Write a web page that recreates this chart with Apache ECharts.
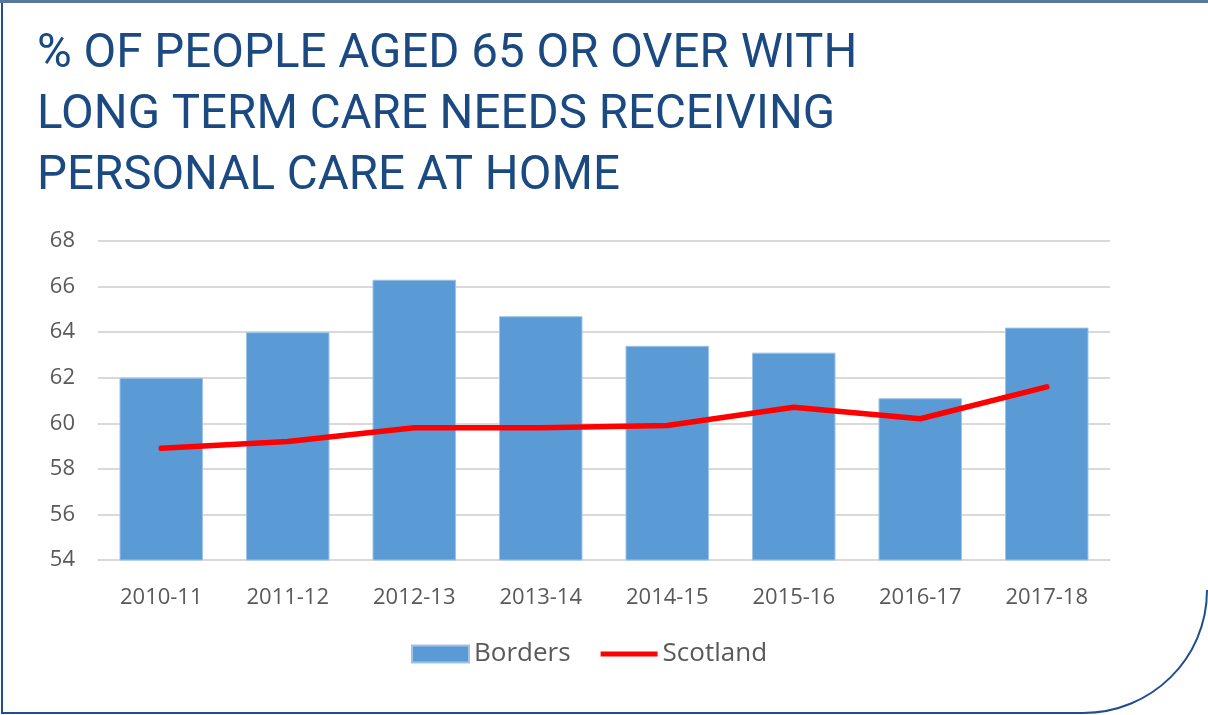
<!DOCTYPE html>
<html>
<head>
<meta charset="utf-8">
<script src="https://cdn.jsdelivr.net/npm/echarts@6/dist/echarts.min.js"></script>
<style>
  html, body { margin: 0; padding: 0; background: #fff; }
  #chart { width: 1208px; height: 715px; }
</style>
</head>
<body>
<div id="chart"></div>
<script>
// Financial years shown on the category axis
const years = ['2010-11', '2011-12', '2012-13', '2013-14', '2014-15', '2015-16', '2016-17', '2017-18'];
// % of people aged 65+ with long term care needs receiving personal care at home
const borders = [62.0, 64.0, 66.3, 64.7, 63.4, 63.1, 61.1, 64.2];
const scotland = [58.9, 59.2, 59.8, 59.8, 59.9, 60.7, 60.2, 61.6];
// Value axis range
const yMin = 54, yMax = 68, yStep = 2;

const chart = echarts.init(document.getElementById('chart'), null, { renderer: 'canvas' });

chart.setOption({
  animation: false,
  backgroundColor: '#ffffff',
  title: {
    text: '% OF PEOPLE AGED 65 OR OVER WITH\nLONG TERM CARE NEEDS RECEIVING\nPERSONAL CARE AT HOME',
    left: 32,
    top: 20,
    textStyle: {
      fontFamily: 'Roboto',
      fontWeight: 'normal',
      fontSize: 47.5,
      lineHeight: 61,
      color: '#1B4A82'
    }
  },
  legend: {
    left: 411,
    bottom: 48,
    padding: 0,
    itemGap: 30,
    itemWidth: 57,
    itemHeight: 17,
    textStyle: { fontFamily: 'Open Sans', fontSize: 26, color: '#595959' },
    data: [
      { name: 'Borders', icon: 'rect' },
      { name: 'Scotland', icon: 'path://M0,0 L57,0 L57,5 L0,5 Z', itemStyle: { color: '#FF0000' } }
    ]
  },
  grid: { left: 98, right: 98, top: 241, bottom: 155 },
  xAxis: {
    type: 'category',
    data: years,
    axisLine: { lineStyle: { color: '#D9D9D9', width: 2 } },
    axisTick: { show: false },
    axisLabel: { fontFamily: 'Open Sans', fontSize: 22, color: '#595959', margin: 27 }
  },
  yAxis: {
    type: 'value',
    min: yMin,
    max: yMax,
    interval: yStep,
    axisLine: { show: false },
    axisTick: { show: false },
    axisLabel: { fontFamily: 'Open Sans', fontSize: 22, color: '#595959', margin: 23 },
    splitLine: { lineStyle: { color: '#D9D9D9', width: 2 } }
  },
  series: [
    {
      name: 'Borders',
      type: 'bar',
      data: borders,
      barWidth: '66%',
      itemStyle: { color: '#5B9BD5', borderColor: '#9DC3E6', borderWidth: 1 },
      z: 2
    },
    {
      name: 'Scotland',
      type: 'line',
      data: scotland,
      symbol: 'none',
      lineStyle: { color: '#FF0000', width: 5.5, cap: 'round', join: 'round' },
      itemStyle: { color: '#FF0000' },
      z: 3
    }
  ],
  graphic: [
    {
      // outer frame: left and bottom edges
      type: 'polyline',
      shape: { points: [[2, 1], [2, 713], [1083, 713]] },
      style: { fill: null, stroke: '#1F4E8C', lineWidth: 2 },
      silent: true
    },
    {
      // rounded lower-right corner of the frame
      type: 'bezierCurve',
      shape: { x1: 1207, y1: 590, cpx1: 1207, cpy1: 659, cpx2: 1151, cpy2: 713, x2: 1083, y2: 713 },
      style: { fill: null, stroke: '#1F4E8C', lineWidth: 2 },
      silent: true
    },
    {
      type: 'line',
      shape: { x1: 0, y1: 1.5, x2: 1208, y2: 1.5 },
      style: { stroke: '#56789F', lineWidth: 3 },
      silent: true
    }
  ]
});
</script>
</body>
</html>
